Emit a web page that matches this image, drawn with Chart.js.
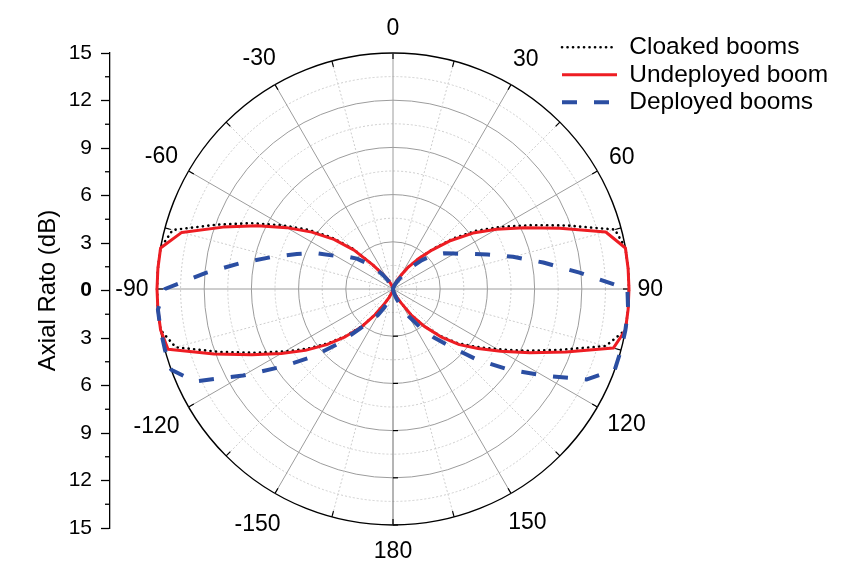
<!DOCTYPE html>
<html>
<head>
<meta charset="utf-8">
<script src="https://cdn.jsdelivr.net/npm/chart.js@4/dist/chart.umd.min.js"></script>
<style>
  html, body { margin: 0; padding: 0; background: #ffffff; }
  #wrap { position: relative; width: 844px; height: 563px; overflow: hidden; }
  #wrap canvas { position: absolute; left: 0; top: 0; }
</style>
</head>
<body>
<div id="wrap">
  <canvas id="axis" width="844" height="563"></canvas>
  <canvas id="polar" width="844" height="563"></canvas>
</div>
<script>
// Angular positions (degrees, clockwise from the top)
const ANGLES = [
  0, 5, 10, 15, 20, 25, 30, 35, 40, 45, 50, 55, 60, 65, 70, 75, 80, 85,
  90, 95, 100, 105, 110, 115, 120, 125, 130, 135, 140, 145, 150, 155, 160, 165, 170, 175,
  180, 185, 190, 195, 200, 205, 210, 215, 220, 225, 230, 235, 240, 245, 250, 255, 260, 265,
  270, 275, 280, 285, 290, 295, 300, 305, 310, 315, 320, 325, 330, 335, 340, 345, 350, 355
];

// Axial ratio (dB) at each angle
const CLOAKED = [
  0, 0.01, 0.06, 0.15, 0.3, 0.6, 1.0, 1.7, 2.5, 3.6, 5.0, 6.45, 7.9, 9.6, 11.8, 14.6, 15, 15,
  15, 15, 15, 14.0, 11.3, 9.3, 7.65, 6.4, 5.35, 4.2, 3.05, 2.0, 1.0, 0.55, 0.3, 0.15, 0.05, 0.01,
  0, 0.01, 0.05, 0.15, 0.3, 0.6, 1.1, 2.0, 3.1, 4.2, 5.35, 6.6, 7.95, 9.6, 11.7, 14.3, 15, 15,
  15, 15, 15, 14.5, 11.95, 9.9, 8.1, 6.55, 5.1, 3.65, 2.0, 1.2, 0.75, 0.45, 0.25, 0.12, 0.05, 0.01
];
const UNDEPLOYED = [
  0, 0.01, 0.06, 0.15, 0.3, 0.6, 1.0, 1.7, 2.5, 3.5, 4.8, 6.2, 7.6, 9.2, 11.3, 14.0, 15, 15,
  15, 15, 15, 14.5, 11.7, 9.6, 7.9, 6.6, 5.5, 4.3, 3.1, 2.0, 1.0, 0.55, 0.3, 0.15, 0.05, 0.01,
  0, 0.01, 0.05, 0.15, 0.3, 0.6, 1.1, 2.0, 3.2, 4.3, 5.5, 6.8, 8.2, 9.9, 12.1, 14.8, 15, 15,
  15, 15, 15, 13.9, 11.5, 9.5, 7.8, 6.3, 4.9, 3.5, 2.0, 1.2, 0.75, 0.45, 0.25, 0.12, 0.05, 0.01
];
const DEPLOYED = [
  0, 0.01, 0.04, 0.1, 0.2, 0.35, 0.6, 1.1, 1.8, 2.6, 3.4, 3.95, 4.5, 5.3, 6.4, 7.9, 9.7, 11.9,
  14.9, 15, 15, 15, 15, 13.6, 11.0, 8.9, 7.0, 5.2, 4.0, 2.9, 2.0, 1.2, 0.65, 0.3, 0.1, 0.02,
  0, 0.02, 0.1, 0.3, 0.7, 1.3, 1.9, 2.5, 3.3, 4.9, 6.7, 8.6, 11.0, 13.9, 15, 15, 15, 15,
  14.5, 11.9, 9.7, 7.9, 6.5, 5.4, 4.2, 3.6, 3.0, 2.3, 1.7, 1.05, 0.6, 0.35, 0.2, 0.1, 0.04, 0.01
];

// Angle labels around the dial
const DIAL_ANGLES = [0, 30, 60, 90, 120, 150, 180, 210, 240, 270, 300, 330];
const DIAL_LABELS = ['0', '30', '60', '90', '120', '150', '180', '-150', '-120', '-90', '-60', '-30'];

// Left axis range and major tick step (dB)
const AXIS_MIN = -15, AXIS_MAX = 15, AXIS_STEP = 3;

const FONT = '"Liberation Sans", Arial, Helvetica, sans-serif';

// Dial geometry on the page
const CX = 393, CY = 289, RADIUS = 236;

function isMultiple(v, step) {
  const q = v / step;
  return Math.abs(q - Math.round(q)) < 1e-6;
}

// ---------- left vertical axis ----------
const minorTicks = {
  id: 'minorTicks',
  afterDraw(chart) {
    const y = chart.scales.y;
    const ctx = chart.ctx;
    ctx.save();
    ctx.strokeStyle = '#000';
    ctx.lineWidth = 1.3;
    for (let v = AXIS_MIN + AXIS_STEP / 2; v < AXIS_MAX; v += AXIS_STEP) {
      const py = y.getPixelForValue(v);
      ctx.beginPath();
      ctx.moveTo(y.right - 5, py);
      ctx.lineTo(y.right, py);
      ctx.stroke();
    }
    ctx.restore();
  }
};

new Chart(document.getElementById('axis'), {
  type: 'scatter',
  data: { datasets: [] },
  options: {
    responsive: false,
    animation: false,
    events: [],
    layout: { padding: { top: 53, bottom: 35, left: 0, right: 0 } },
    plugins: { legend: { display: false }, tooltip: { enabled: false } },
    scales: {
      x: { display: false },
      y: {
        position: 'left',
        min: AXIS_MIN,
        max: AXIS_MAX,
        afterFit: (s) => { s.width = 110; },
        ticks: {
          stepSize: AXIS_STEP,
          padding: 9,
          color: '#000',
          font: (c) => ({ family: FONT, size: 21, weight: (c.tick && c.tick.value === 0) ? 'bold' : 'normal' }),
          callback: (v) => String(Math.abs(v))
        },
        grid: { drawOnChartArea: false, drawTicks: true, tickLength: 9, tickColor: '#000', tickWidth: 1.3 },
        border: { display: true, color: '#000', width: 1.3 },
        title: {
          display: true,
          text: 'Axial Rato (dB)',
          color: '#000',
          font: { family: FONT, size: 24 },
          padding: { top: 34, bottom: 0 }
        }
      }
    }
  },
  plugins: [minorTicks]
});

// ---------- polar dial ----------
const dialDecor = {
  id: 'dialDecor',
  beforeDatasetsDraw(chart) {
    const r = chart.scales.r;
    const ctx = chart.ctx;
    ctx.save();
    ctx.strokeStyle = '#000';
    ctx.lineWidth = 1.2;
    // inward ticks on the rim every 15 degrees
    ANGLES.forEach((a, i) => {
      if (a % 15 !== 0) return;
      const p0 = r.getPointPosition(i, r.drawingArea - 6);
      const p1 = r.getPointPosition(i, r.drawingArea);
      ctx.beginPath();
      ctx.moveTo(p0.x, p0.y);
      ctx.lineTo(p1.x, p1.y);
      ctx.stroke();
    });
    // radial scale ticks along the 180 degree line
    const iBottom = ANGLES.indexOf(180);
    for (let v = AXIS_STEP; v <= r.max + 1e-6; v += AXIS_STEP) {
      const p = r.getPointPosition(iBottom, r.getDistanceFromCenterForValue(v));
      ctx.beginPath();
      ctx.moveTo(p.x, p.y);
      ctx.lineTo(p.x + 5, p.y);
      ctx.stroke();
    }
    ctx.restore();
  },
  afterDraw(chart) {
    const r = chart.scales.r;
    const ctx = chart.ctx;
    ctx.save();
    ctx.font = '23px ' + FONT;
    ctx.fillStyle = '#000';
    ctx.textAlign = 'center';
    ctx.textBaseline = 'middle';
    DIAL_ANGLES.forEach((a, k) => {
      const idx = ANGLES.indexOf(a);
      const text = DIAL_LABELS[k];
      const w = ctx.measureText(text).width;
      const h = 34;
      const th = a * Math.PI / 180;
      const ext = Math.abs(Math.sin(th)) * w / 2 + Math.abs(Math.cos(th)) * h / 2;
      const p = r.getPointPosition(idx, r.drawingArea + 8.5 + ext);
      ctx.fillText(text, p.x, p.y + 1);
    });
    ctx.restore();
  }
};

new Chart(document.getElementById('polar'), {
  type: 'radar',
  data: {
    labels: ANGLES,
    datasets: [
      {
        label: 'Cloaked booms',
        data: CLOAKED,
        borderColor: '#000000',
        backgroundColor: '#000000',
        borderWidth: 2.6,
        borderDash: [0.1, 5.4],
        borderCapStyle: 'round',
        fill: false,
        clip: false,
        order: 3
      },
      {
        label: 'Undeployed booms',
        data: UNDEPLOYED,
        borderColor: '#ee1d23',
        backgroundColor: '#ee1d23',
        borderWidth: 3,
        fill: false,
        clip: false,
        order: 2
      },
      {
        label: 'Deployed booms',
        data: DEPLOYED,
        borderColor: '#2b4ea2',
        backgroundColor: '#2b4ea2',
        borderWidth: 4,
        borderDash: [15, 17],
        fill: false,
        clip: false,
        order: 1
      }
    ]
  },
  options: {
    responsive: false,
    animation: false,
    events: [],
    elements: {
      point: { radius: 0, hoverRadius: 0, hitRadius: 0 },
      line: { tension: 0, borderJoinStyle: 'round' }
    },
    layout: { padding: { top: 32, right: 15 } },
    scales: {
      r: {
        min: 0,
        max: 15,
        startAngle: 0,
        ticks: { display: false, stepSize: 1.5 },
        pointLabels: { display: false },
        grid: {
          circular: true,
          color: (c) => {
            const v = c.tick.value;
            if (v >= 15) return '#000000';
            return isMultiple(v, 3) ? '#9c9c9c' : '#cdcdcd';
          },
          lineWidth: (c) => (c.tick.value >= 15 ? 1.4 : 1)
        },
        border: {
          dash: (c) => (c.tick && !isMultiple(c.tick.value, 3) ? [2, 2] : [])
        },
        angleLines: {
          color: (c) => {
            const a = ANGLES[c.index];
            if (a === 180) return '#6a6a6a';
            if (a % 30 === 0) return '#9c9c9c';
            if (a % 15 === 0) return '#cdcdcd';
            return 'rgba(0,0,0,0)';
          },
          lineWidth: (c) => (ANGLES[c.index] % 15 === 0 ? 1 : 0),
          borderDash: (c) => (ANGLES[c.index] % 30 === 0 ? [] : [2, 2])
        },
        afterFit: (s) => {
          s.xCenter = CX;
          s.yCenter = CY;
          s.drawingArea = RADIUS;
        }
      }
    },
    plugins: {
      tooltip: { enabled: false },
      legend: {
        position: 'right',
        align: 'start',
        maxWidth: 270,
        labels: {
          usePointStyle: true,
          pointStyleWidth: 55,
          padding: 3,
          color: '#000',
          font: { family: FONT, size: 24.5 },
          generateLabels: (chart) => chart.data.datasets.map((ds, i) => ({
            text: ds.label,
            strokeStyle: ds.borderColor,
            fillStyle: ds.borderColor,
            lineWidth: ds.borderWidth,
            lineDash: ds.borderDash || [],
            lineCap: ds.borderCapStyle || 'butt',
            pointStyle: 'line',
            hidden: false,
            datasetIndex: i
          }))
        }
      }
    }
  },
  plugins: [dialDecor]
});
</script>
</body>
</html>
